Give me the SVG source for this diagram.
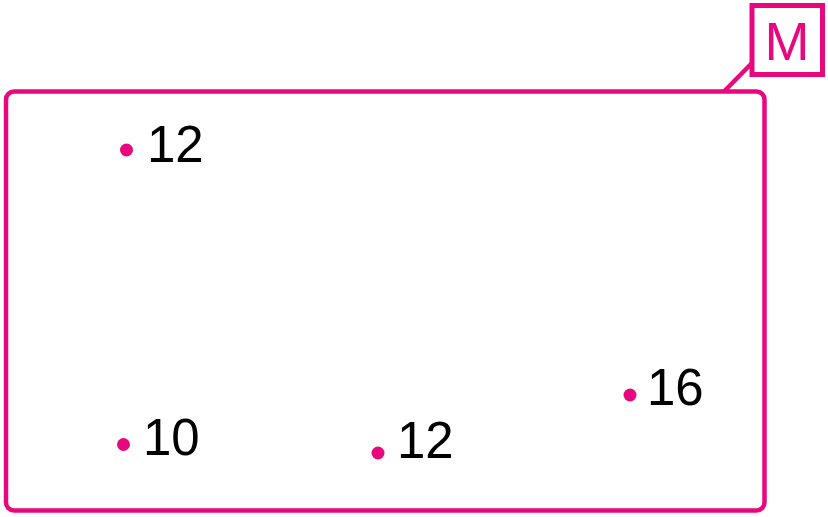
<svg xmlns="http://www.w3.org/2000/svg" width="828" height="517" viewBox="0 0 828 517">
<style>
.frame{fill:none;stroke:#E8087E;stroke-width:4.5}
.dot{fill:#E8087E}
.num{font-family:"Liberation Sans",Arial,sans-serif;font-size:51px;fill:#000}
.lbl{font-family:"Liberation Sans",Arial,sans-serif;font-size:54px;fill:#E8087E;text-anchor:middle}
</style>
<rect width="828" height="517" fill="#fff"/>
<g id="region-M">
<rect class="frame" x="6" y="91.5" width="758.5" height="419" rx="8"/>
<rect class="frame" x="752" y="5.5" width="70.5" height="69" style="stroke-width:5"/>
<text class="lbl" x="787" y="60">M</text>
</g>
<g id="connectors">
<line class="frame" x1="752" y1="63" x2="724" y2="91.5"/>
</g>
<g id="p1"><circle class="dot" cx="126.5" cy="150" r="6.5"/><text class="num" x="147" y="162">12</text></g>
<g id="p2"><circle class="dot" cx="123.5" cy="444.5" r="6.5"/><text class="num" x="143" y="455">10</text></g>
<g id="p3"><circle class="dot" cx="378" cy="453" r="6.5"/><text class="num" x="397" y="458">12</text></g>
<g id="p4"><circle class="dot" cx="630" cy="395" r="6.5"/><text class="num" x="647" y="405">16</text></g>
</svg>
